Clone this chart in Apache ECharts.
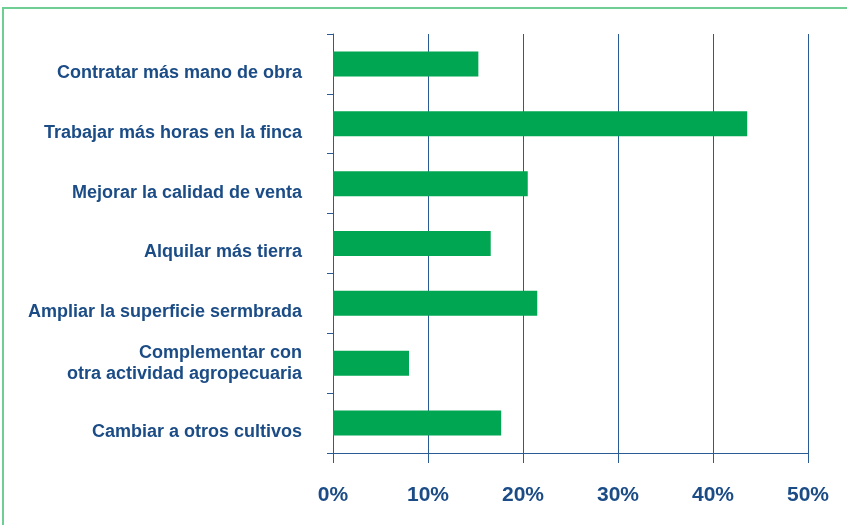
<!doctype html>
<html lang="es">
<head>
    <meta charset="UTF-8">
    <title>Estrategias</title>
    <script src="https://cdn.jsdelivr.net/npm/echarts@6/dist/echarts.min.js"></script>
    <style>
        html, body { margin: 0; padding: 0; background: #fff; }
        #main { width: 847px; height: 525px; }
    </style>
</head>
<body>
<div id="main"></div>
<script>
    // datos
    var categorias = [
        'Contratar más mano de obra',
        'Trabajar más horas en la finca',
        'Mejorar la calidad de venta',
        'Alquilar más tierra',
        'Ampliar la superficie sermbrada',
        'Complementar con\notra actividad agropecuaria',
        'Cambiar a otros cultivos'
    ];
    var porcentajes = [15.3, 43.6, 20.5, 16.6, 21.5, 8.0, 17.7];
    var ejeMin = 0, ejeMax = 50, ejeIntervalo = 10;

    var azul = '#1b4c86';
    var lineaAzul = '#2a5b92';
    var fuente = {
        color: azul,
        fontFamily: 'Liberation Sans',
        fontWeight: 'bold',
        fontSize: 18,
        lineHeight: 21
    };

    var myChart = echarts.init(document.getElementById('main'));
    var option = {
        animation: false,
        graphic: [
            {
                type: 'rect',
                shape: { x: 3, y: 8, width: 1000, height: 700 },
                style: { fill: 'none', stroke: '#6fcf92', lineWidth: 2 },
                silent: true
            }
        ],
        grid: { left: 333, right: 39, top: 34, bottom: 72 },
        xAxis: {
            type: 'value',
            min: ejeMin,
            max: ejeMax,
            interval: ejeIntervalo,
            axisLine: { show: true, lineStyle: { color: lineaAzul, width: 1 } },
            axisTick: { show: true, length: 10, lineStyle: { color: lineaAzul } },
            splitLine: { show: true, lineStyle: { color: lineaAzul, width: 1 } },
            axisLabel: {
                formatter: '{value}%',
                color: azul,
                fontFamily: 'Liberation Sans',
                fontWeight: 'bold',
                fontSize: 21,
                margin: 32
            }
        },
        yAxis: {
            type: 'category',
            inverse: true,
            data: categorias,
            axisLine: { show: true, lineStyle: { color: lineaAzul, width: 1 } },
            axisTick: { show: true, length: 6, lineStyle: { color: lineaAzul } },
            axisLabel: {
                color: azul,
                fontFamily: 'Liberation Sans',
                fontWeight: 'bold',
                fontSize: 18,
                lineHeight: 21,
                align: 'right',
                margin: 31,
                // las de una linea van un poco por debajo del centro
                formatter: function (v) {
                    if (v.indexOf('\n') >= 0) return '{d|' + v.replace('\n', '}\n{d|') + '}';
                    return '{s|' + v + '}';
                },
                rich: {
                    s: Object.assign({ padding: [18, 0, 0, 0] }, fuente),
                    d: fuente
                }
            }
        },
        series: [
            {
                type: 'bar',
                data: porcentajes,
                barWidth: 25,
                itemStyle: { color: '#00a651' }
            }
        ]
    };
    myChart.setOption(option);
</script>
</body>
</html>
